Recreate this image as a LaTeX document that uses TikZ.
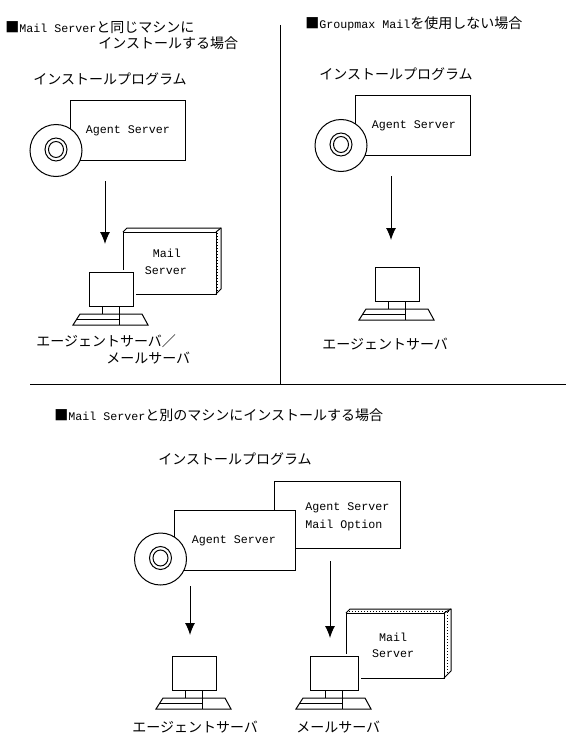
\documentclass[tikz,border=0pt]{standalone}
\usepackage{fontspec}
\setmainfont{Noto Sans CJK JP}
\newfontfamily\latinmono{Liberation Mono}
\newcommand{\lt}[1]{{\latinmono\fontsize{8.75}{12}\selectfont #1}}
\newcommand{\pcmon}[3]{% x-left, top, width
  \begin{scope}[shift={(#1,#2)}]
    \draw[halo] (-2,-2) rectangle (#3+3,44);
    \draw[ln] (0,0) rectangle (#3,34);
    \draw[ln] (#3/2-9,34) -- (#3/2-9,42) (#3/2+8,34) -- (#3/2+8,42);
    \draw[ln] (#3/2-31,42) -- (#3/2+31,42) -- (#3/2+37,53) -- (#3/2-38,53) -- cycle;
    \draw[ln] (#3/2-34,47.5) -- (#3/2+8,47.5);
    \draw[ln] (#3/2+8,42) -- (#3/2+8,53);
  \end{scope}}
\newcommand{\cddisc}[2]{%
  \begin{scope}[shift={(#1,#2)}]
    \draw[ln,fill=white] (0,0) circle [radius=26];
    \draw[ln] (0,-1) ellipse [x radius=11,y radius=11.5];
    \draw[ln] (0,-1) ellipse [x radius=7.5,y radius=8];
  \end{scope}}
\newcommand{\mailbox}[5]{% left, top, right, bottom, depth
  \draw[ln,fill=white] (#1,#2) rectangle (#3,#4);
  \draw[ln] (#1,#2) -- (#1+4,#2-4) -- (#3+#5,#2-4) -- (#3+#5,#4-#5) -- (#3,#4);
  \draw[ln] (#3,#2) -- (#3+#5,#2-4);}
\usetikzlibrary{arrows.meta}
\tikzset{
  x=0.75pt,y=-0.75pt,
  ln/.style={draw=black,line width=0.75pt},
  halo/.style={draw=none,fill=white},
  dots/.style={draw=black,line width=0.75pt,dash pattern=on 0.75pt off 1.5pt},
  arrowln/.style={draw=black,line width=0.75pt,-{Latex[length=9pt,width=7.5pt]}},
  jp/.style={inner sep=0pt,font=\fontsize{10.5}{12}\selectfont,anchor=west},
  ctr/.style={inner sep=0pt,align=center,anchor=center},
  boxn/.style={draw=black,line width=0.75pt,fill=white,inner sep=0pt,anchor=north west},
}
\begin{document}
\begin{tikzpicture}
\useasboundingbox (0,0) rectangle (570,742);
\draw[ln] (280,25) -- (280,384);
\draw[ln] (30,384) -- (566,384);
% --- top left
\node[jp] (h1a) at (5,27.5) {■\lt{Mail Server}と同じマシンに};
\node[jp] (h1b) at (98,43.5) {インストールする場合};
\node[jp] (p1) at (33,79) {インストールプログラム};
\node[boxn,minimum width=86.25pt,minimum height=45pt] (b1) at (70,100) {};
\node[ctr] (b1t) at (128,131) {\lt{Agent Server}};
\cddisc{56}{150.5}
\mailbox{123}{232}{216}{294}{5}
\draw[dots] (217.5,233) -- (217.5,292);
\node[ctr] (m1a) at (167,253.5) {\lt{Mail}};
\node[ctr] (m1b) at (166,271) {\lt{Server}};
\pcmon{89}{272}{44}
\coordinate (a1s) at (105,181); \coordinate (a1e) at (105,244);
\draw[arrowln] (a1s) -- (a1e);
\node[jp] (l1a) at (36,341) {エージェントサーバ／};
\node[jp] (l1b) at (106,358) {メールサーバ};
% --- top right
\node[jp] (h2) at (305,24) {■\lt{Groupmax Mail}を使用しない場合};
\node[jp] (p2) at (319,74) {インストールプログラム};
\node[boxn,minimum width=86.25pt,minimum height=45pt] (b2) at (355,95) {};
\node[ctr] (b2t) at (414,126) {\lt{Agent Server}};
\cddisc{341}{145.5}
\coordinate (a2s) at (391,176); \coordinate (a2e) at (391,240);
\draw[arrowln] (a2s) -- (a2e);
\pcmon{375}{267}{44}
\node[jp] (l2) at (322,344) {エージェントサーバ};
% --- bottom
\node[jp] (h3) at (54,415) {■\lt{Mail Server}と別のマシンにインストールする場合};
\node[jp] (p3) at (158,459) {インストールプログラム};
\node[boxn,minimum width=94.5pt,minimum height=50.25pt] (b3) at (274,481) {};
\node[jp,font=\relax] (b3a) at (305,508) {\lt{Agent Server}};
\node[jp,font=\relax] (b3b) at (305,525) {\lt{Mail Option}};
\node[boxn,minimum width=91pt,minimum height=45pt] (b4) at (174,510) {};
\node[ctr] (b4t) at (234,541) {\lt{Agent Server}};
\cddisc{160.5}{559}
\coordinate (a3s) at (190,586); \coordinate (a3e) at (190,635);
\draw[arrowln] (a3s) -- (a3e);
\coordinate (a4s) at (330,561); \coordinate (a4e) at (330,638);
\draw[arrowln] (a4s) -- (a4e);
\mailbox{346}{613}{444}{678}{7}
\draw[dots] (349,611) -- (449,611);
\draw[dots] (447.5,612) -- (447.5,674);
\node[ctr] (m2a) at (393,637) {\lt{Mail}};
\node[ctr] (m2b) at (393,654) {\lt{Server}};
\pcmon{172}{656}{44}
\pcmon{310}{656}{48}
\node[jp] (l3) at (132,727) {エージェントサーバ};
\node[jp] (l4) at (296,727) {メールサーバ};
\end{tikzpicture}
\end{document}
